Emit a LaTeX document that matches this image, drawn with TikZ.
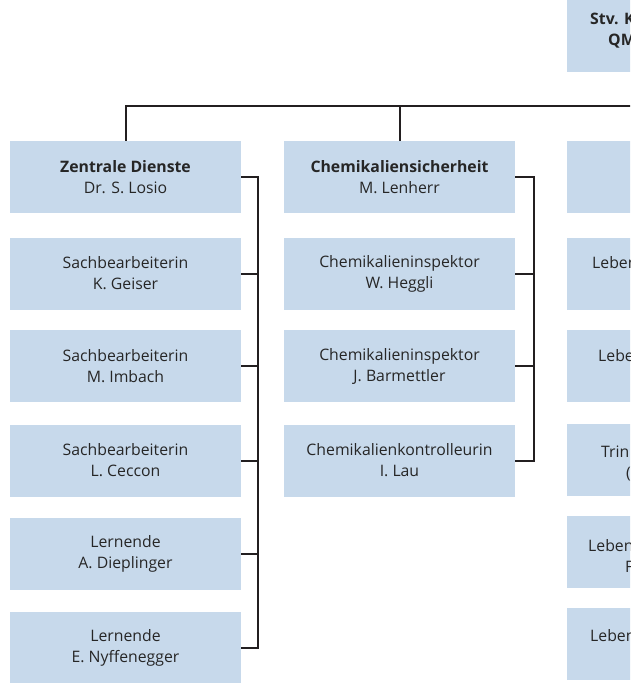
\documentclass[tikz,border=0pt]{standalone}
\usepackage{fontspec}
\setmainfont{Open Sans}
\definecolor{boxblue}{RGB}{199,217,235}
\definecolor{linedark}{RGB}{35,31,32}
\tikzset{
  orgbox/.style={fill=boxblue, minimum width=231pt, minimum height=72pt, inner sep=0pt,
    align=center, text=black!85, font=\fontsize{15.8}{21}\selectfont},
  cutlabel/.style={anchor=base west, inner sep=0pt, text=black!85, font=\fontsize{15.8}{21}\selectfont},
  orgline/.style={draw=linedark, line width=2pt},
}
\begin{document}
\begin{tikzpicture}[x=1pt,y=-1pt]
    \useasboundingbox (0,0) rectangle (630,683);
    \clip (0,0) rectangle (630,683);

    % Leitung (rechts angeschnitten)
    \node[orgbox, anchor=north west] (stv) at (567,0) {};
    \node[cutlabel, font=\fontsize{15.8}{21}\selectfont\bfseries] (stvA) at (590,24) {Stv. K};
    \node[cutlabel, font=\fontsize{15.8}{21}\selectfont\bfseries] (stvB) at (608,45) {QM};

    % Zentrale Dienste
    \node[orgbox] (zd) at (125.5,177) {\textbf{Zentrale Dienste}\\Dr. S. Losio};
    \node[orgbox] (geiser) at (125.5,273.5) {Sachbearbeiterin\\K. Geiser};
    \node[orgbox] (imbach) at (125.5,366) {Sachbearbeiterin\\M. Imbach};
    \node[orgbox] (ceccon) at (125.5,460.5) {Sachbearbeiterin\\L. Ceccon};
    \node[orgbox] (diepl) at (125.5,554) {Lernende\\A. Dieplinger};
    \node[orgbox] (nyff) at (125.5,648) {Lernende\\E. Nyffenegger};

    % Chemikaliensicherheit
    \node[orgbox] (cs) at (399.5,177) {\textbf{Chemikaliensicherheit}\\M. Lenherr};
    \node[orgbox] (heggli) at (399.5,273.5) {Chemikalieninspektor\\W. Heggli};
    \node[orgbox] (barm) at (399.5,366) {Chemikalieninspektor\\J. Barmettler};
    \node[orgbox] (lau) at (399.5,460.5) {Chemikalienkontrolleurin\\I. Lau};

    % dritte Spalte (rechts angeschnitten)
    \node[orgbox, anchor=west] (ra) at (567,177) {};
    \node[orgbox, anchor=west] (rb) at (567,273.5) {};
    \node[orgbox, anchor=west] (rc) at (567,366) {};
    \node[orgbox, anchor=west] (rd) at (567,460) {};
    \node[orgbox, anchor=west] (re) at (567,552) {};
    \node[orgbox, anchor=west] (rf) at (567,644) {};
    \node[cutlabel] (rbA) at (592,268) {Leben};
    \node[cutlabel] (rcA) at (598,361) {Leben};
    \node[cutlabel] (rdA) at (601,457) {Trin};
    \node[cutlabel] (rdB) at (626,478) {(};
    \node[cutlabel] (reA) at (588,551) {Leben};
    \node[cutlabel] (reB) at (625,572) {F};
    \node[cutlabel] (rfA) at (590,641) {Leben};

    % Verbindungen
    \coordinate (barR) at (640,106);
    \draw[orgline] (zd.north) |- (barR);
    \draw[orgline] (cs.north) -- (cs.north |- barR);
    \draw[orgline] (zd.east) -- ++(17,0) |- (nyff.east);
    \foreach \n in {geiser,imbach,ceccon,diepl}
        \draw[orgline] (\n.east) -- ++(17,0);
    \draw[orgline] (cs.east) -- ++(19,0) |- (lau.east);
    \foreach \n in {heggli,barm}
        \draw[orgline] (\n.east) -- ++(19,0);
\end{tikzpicture}
\end{document}
